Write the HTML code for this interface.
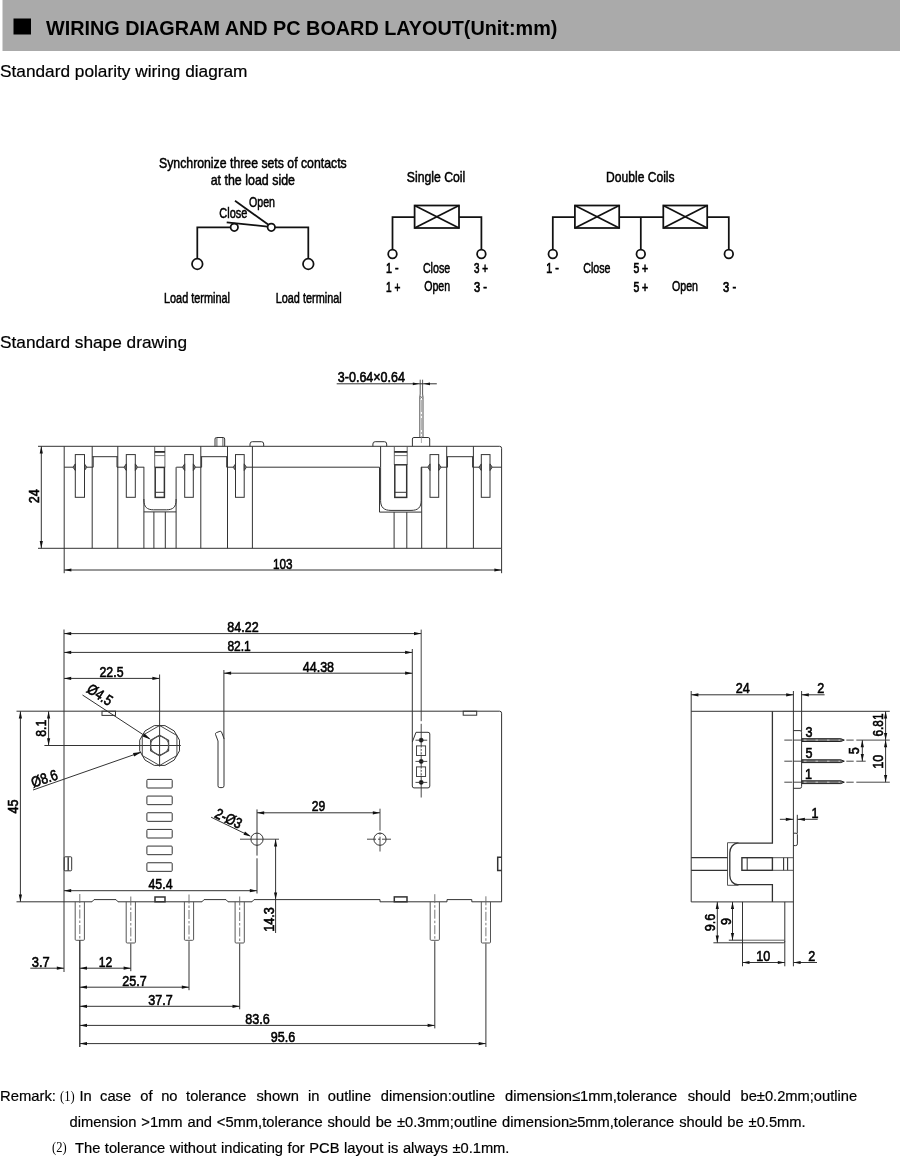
<!DOCTYPE html>
<html><head><meta charset="utf-8"><title>Wiring diagram and PC board layout</title>
<style>
html,body{margin:0;padding:0;background:#fff;}
body{width:900px;height:1156px;overflow:hidden;font-family:"Liberation Sans",sans-serif;}
svg{display:block;position:absolute;left:0;top:0;will-change:transform;}
svg text{font-family:"Liberation Sans",sans-serif;}
</style></head><body>
<svg width="900" height="1156" viewBox="0 0 900 1156">
<rect x="0" y="0" width="900" height="1156" fill="#fff"/>

<rect x="2.5" y="0" width="898" height="51" fill="#aaaaaa"/>
<rect x="13.5" y="18.5" width="17.5" height="16" fill="#000"/>
<text x="46.00" y="35.20" font-size="19.9" text-anchor="start" font-weight="bold" fill="#000" stroke="none" textLength="511.4" lengthAdjust="spacingAndGlyphs">WIRING DIAGRAM AND PC BOARD LAYOUT(Unit:mm)</text>
<text x="0.00" y="77.30" font-size="16.6" text-anchor="start" font-weight="normal" fill="#000" stroke="#000" stroke-width="0.2" textLength="247.5" lengthAdjust="spacingAndGlyphs">Standard polarity wiring diagram</text>
<text x="0.00" y="348.00" font-size="16.6" text-anchor="start" font-weight="normal" fill="#000" stroke="#000" stroke-width="0.2" textLength="187.0" lengthAdjust="spacingAndGlyphs">Standard shape drawing</text>
<g stroke="#111" fill="none" stroke-linecap="butt">
<circle cx="197.30" cy="264.00" r="5.30" stroke-width="1.75" fill="none"/>
<circle cx="308.30" cy="264.00" r="5.30" stroke-width="1.75" fill="none"/>
<path d="M197.3,258.7 V227.3 H230.6" stroke-width="1.75" fill="none"/>
<circle cx="234.30" cy="227.30" r="3.70" stroke-width="1.75" fill="none"/>
<circle cx="271.30" cy="227.30" r="3.70" stroke-width="1.75" fill="none"/>
<path d="M275,227.3 H308.3 V258.7" stroke-width="1.75" fill="none"/>
<line x1="226.70" y1="222.40" x2="267.70" y2="226.60" stroke-width="1.75"/>
<line x1="235.00" y1="200.70" x2="268.50" y2="224.80" stroke-width="1.75"/>
<rect x="414.60" y="205.50" width="44.40" height="22.50" rx="0" stroke-width="1.75" fill="none"/>
<line x1="414.60" y1="205.50" x2="459.00" y2="228.00" stroke-width="1.75"/>
<line x1="414.60" y1="228.00" x2="459.00" y2="205.50" stroke-width="1.75"/>
<path d="M414.6,217.2 H392.5 V249.7" stroke-width="1.75" fill="none"/>
<circle cx="392.50" cy="254.00" r="4.30" stroke-width="1.75" fill="none"/>
<path d="M459.0,217.2 H481.4 V249.7" stroke-width="1.75" fill="none"/>
<circle cx="481.40" cy="254.00" r="4.30" stroke-width="1.75" fill="none"/>
<rect x="574.90" y="205.50" width="44.30" height="22.50" rx="0" stroke-width="1.75" fill="none"/>
<line x1="574.90" y1="205.50" x2="619.20" y2="228.00" stroke-width="1.75"/>
<line x1="574.90" y1="228.00" x2="619.20" y2="205.50" stroke-width="1.75"/>
<rect x="663.30" y="205.50" width="43.90" height="22.50" rx="0" stroke-width="1.75" fill="none"/>
<line x1="663.30" y1="205.50" x2="707.20" y2="228.00" stroke-width="1.75"/>
<line x1="663.30" y1="228.00" x2="707.20" y2="205.50" stroke-width="1.75"/>
<path d="M574.9,217.2 H552.8 V249.7" stroke-width="1.75" fill="none"/>
<circle cx="552.80" cy="254.00" r="4.30" stroke-width="1.75" fill="none"/>
<line x1="619.20" y1="217.20" x2="663.30" y2="217.20" stroke-width="1.75"/>
<line x1="640.80" y1="217.20" x2="640.80" y2="249.70" stroke-width="1.75"/>
<circle cx="640.80" cy="254.00" r="4.30" stroke-width="1.75" fill="none"/>
<path d="M707.2,217.2 H728.8 V249.7" stroke-width="1.75" fill="none"/>
<circle cx="728.80" cy="254.00" r="4.30" stroke-width="1.75" fill="none"/>
</g>
<text x="159.00" y="167.80" font-size="14.8" text-anchor="start" font-weight="normal" fill="#000" stroke="#000" stroke-width="0.5" textLength="187.7" lengthAdjust="spacingAndGlyphs">Synchronize three sets of contacts</text>
<text x="210.70" y="184.60" font-size="14.8" text-anchor="start" font-weight="normal" fill="#000" stroke="#000" stroke-width="0.5" textLength="84.3" lengthAdjust="spacingAndGlyphs">at the load side</text>
<text x="249.00" y="206.70" font-size="13.8" text-anchor="start" font-weight="normal" fill="#000" stroke="#000" stroke-width="0.5" textLength="26.0" lengthAdjust="spacingAndGlyphs">Open</text>
<text x="219.30" y="217.70" font-size="13.8" text-anchor="start" font-weight="normal" fill="#000" stroke="#000" stroke-width="0.5" textLength="28.0" lengthAdjust="spacingAndGlyphs">Close</text>
<text x="164.00" y="303.30" font-size="13.8" text-anchor="start" font-weight="normal" fill="#000" stroke="#000" stroke-width="0.5" textLength="66.0" lengthAdjust="spacingAndGlyphs">Load terminal</text>
<text x="275.70" y="303.30" font-size="13.8" text-anchor="start" font-weight="normal" fill="#000" stroke="#000" stroke-width="0.5" textLength="66.0" lengthAdjust="spacingAndGlyphs">Load terminal</text>
<text x="406.80" y="181.90" font-size="14.8" text-anchor="start" font-weight="normal" fill="#000" stroke="#000" stroke-width="0.5" textLength="58.5" lengthAdjust="spacingAndGlyphs">Single Coil</text>
<text x="606.10" y="181.90" font-size="14.8" text-anchor="start" font-weight="normal" fill="#000" stroke="#000" stroke-width="0.5" textLength="68.5" lengthAdjust="spacingAndGlyphs">Double Coils</text>
<text x="386.00" y="273.40" font-size="13.8" text-anchor="start" font-weight="normal" fill="#000" stroke="#000" stroke-width="0.7" textLength="12.6" lengthAdjust="spacingAndGlyphs">1 -</text>
<text x="422.90" y="273.40" font-size="13.8" text-anchor="start" font-weight="normal" fill="#000" stroke="#000" stroke-width="0.5" textLength="27.3" lengthAdjust="spacingAndGlyphs">Close</text>
<text x="474.00" y="273.40" font-size="13.8" text-anchor="start" font-weight="normal" fill="#000" stroke="#000" stroke-width="0.7" textLength="13.9" lengthAdjust="spacingAndGlyphs">3 +</text>
<text x="386.00" y="291.70" font-size="13.8" text-anchor="start" font-weight="normal" fill="#000" stroke="#000" stroke-width="0.7" textLength="14.3" lengthAdjust="spacingAndGlyphs">1 +</text>
<text x="424.20" y="290.80" font-size="13.8" text-anchor="start" font-weight="normal" fill="#000" stroke="#000" stroke-width="0.5" textLength="26.0" lengthAdjust="spacingAndGlyphs">Open</text>
<text x="474.00" y="291.70" font-size="13.8" text-anchor="start" font-weight="normal" fill="#000" stroke="#000" stroke-width="0.7" textLength="13.0" lengthAdjust="spacingAndGlyphs">3 -</text>
<text x="546.30" y="273.40" font-size="13.8" text-anchor="start" font-weight="normal" fill="#000" stroke="#000" stroke-width="0.7" textLength="12.6" lengthAdjust="spacingAndGlyphs">1 -</text>
<text x="583.20" y="273.40" font-size="13.8" text-anchor="start" font-weight="normal" fill="#000" stroke="#000" stroke-width="0.5" textLength="27.3" lengthAdjust="spacingAndGlyphs">Close</text>
<text x="633.40" y="273.40" font-size="13.8" text-anchor="start" font-weight="normal" fill="#000" stroke="#000" stroke-width="0.7" textLength="14.8" lengthAdjust="spacingAndGlyphs">5 +</text>
<text x="633.40" y="291.70" font-size="13.8" text-anchor="start" font-weight="normal" fill="#000" stroke="#000" stroke-width="0.7" textLength="14.8" lengthAdjust="spacingAndGlyphs">5 +</text>
<text x="672.00" y="290.80" font-size="13.8" text-anchor="start" font-weight="normal" fill="#000" stroke="#000" stroke-width="0.5" textLength="26.0" lengthAdjust="spacingAndGlyphs">Open</text>
<text x="723.10" y="291.70" font-size="13.8" text-anchor="start" font-weight="normal" fill="#000" stroke="#000" stroke-width="0.7" textLength="13.0" lengthAdjust="spacingAndGlyphs">3 -</text>
<g stroke="#333333" fill="none" stroke-linecap="butt" stroke-linejoin="miter">
<line x1="38.00" y1="446.30" x2="499.60" y2="446.30" stroke-width="1"/>
<line x1="38.00" y1="548.30" x2="501.60" y2="548.30" stroke-width="1"/>
<path d="M499.6,446.3 Q501.6,446.3 501.6,448.3 V548.3" stroke-width="1" fill="none"/>
<line x1="64.20" y1="446.30" x2="64.20" y2="573.20" stroke-width="1"/>
<line x1="501.60" y1="548.30" x2="501.60" y2="573.20" stroke-width="1"/>
<line x1="41.30" y1="446.30" x2="41.30" y2="548.30" stroke-width="1"/>
<polygon points="41.30,446.30 42.90,453.50 39.70,453.50" fill="#111" stroke="none"/>
<polygon points="41.30,548.30 39.70,541.10 42.90,541.10" fill="#111" stroke="none"/>
<line x1="64.20" y1="570.00" x2="501.60" y2="570.00" stroke-width="1"/>
<polygon points="64.20,570.00 71.40,568.40 71.40,571.60" fill="#111" stroke="none"/>
<polygon points="501.60,570.00 494.40,571.60 494.40,568.40" fill="#111" stroke="none"/>
<line x1="92.20" y1="446.30" x2="92.20" y2="548.30" stroke-width="1"/>
<line x1="64.20" y1="467.20" x2="73.00" y2="467.20" stroke-width="1"/>
<line x1="86.80" y1="467.20" x2="93.20" y2="467.20" stroke-width="1"/>
<line x1="93.20" y1="467.20" x2="93.20" y2="456.70" stroke-width="1"/>
<rect x="75.30" y="454.60" width="9.20" height="42.70" rx="0" stroke-width="1" fill="none"/>
<path d="M75.3,463.9 L73.0,467.2 L75.3,470.5 Z" stroke-width="0.9" fill="#777"/>
<path d="M84.5,463.9 L86.8,467.2 L84.5,470.5 Z" stroke-width="0.9" fill="#777"/>
<line x1="92.20" y1="456.70" x2="117.80" y2="456.70" stroke-width="1"/>
<line x1="117.80" y1="446.30" x2="117.80" y2="548.30" stroke-width="1"/>
<line x1="117.00" y1="456.70" x2="117.00" y2="467.20" stroke-width="1"/>
<line x1="117.00" y1="467.20" x2="124.00" y2="467.20" stroke-width="1"/>
<line x1="137.60" y1="467.20" x2="144.20" y2="467.20" stroke-width="1"/>
<rect x="126.30" y="454.60" width="9.00" height="42.70" rx="0" stroke-width="1" fill="none"/>
<path d="M126.3,463.9 L124.0,467.2 L126.3,470.5 Z" stroke-width="0.9" fill="#777"/>
<path d="M135.3,463.9 L137.60000000000002,467.2 L135.3,470.5 Z" stroke-width="0.9" fill="#777"/>
<path d="M143.9,467.2 V500 C143.9,507 147,509.8 153.5,509.8 H166.5 C173,509.8 176.1,507 176.1,500 V467.2" stroke-width="1" fill="none"/>
<path d="M143.9,499 V548.3 M176.1,499 V548.3" stroke-width="1" fill="none"/>
<line x1="143.90" y1="511.90" x2="176.10" y2="511.90" stroke-width="1"/>
<line x1="153.90" y1="511.90" x2="153.90" y2="548.30" stroke-width="1"/>
<line x1="165.30" y1="511.90" x2="165.30" y2="548.30" stroke-width="1"/>
<line x1="154.70" y1="446.30" x2="154.70" y2="467.40" stroke-width="0.9" stroke="#555"/>
<line x1="164.90" y1="446.30" x2="164.90" y2="467.40" stroke-width="0.9" stroke="#555"/>
<line x1="154.70" y1="451.90" x2="164.90" y2="451.90" stroke-width="1.7" stroke="#222"/>
<line x1="154.70" y1="455.60" x2="164.90" y2="455.60" stroke-width="0.9" stroke="#666"/>
<rect x="155.20" y="467.40" width="9.20" height="30.00" rx="0" stroke-width="1.5" fill="none"/>
<line x1="155.20" y1="492.30" x2="164.40" y2="492.30" stroke-width="1.0"/>
<line x1="176.30" y1="467.20" x2="182.40" y2="467.20" stroke-width="1"/>
<line x1="195.60" y1="467.20" x2="201.60" y2="467.20" stroke-width="1"/>
<rect x="184.70" y="454.60" width="8.60" height="42.70" rx="0" stroke-width="1" fill="none"/>
<path d="M184.7,463.9 L182.39999999999998,467.2 L184.7,470.5 Z" stroke-width="0.9" fill="#777"/>
<path d="M193.3,463.9 L195.60000000000002,467.2 L193.3,470.5 Z" stroke-width="0.9" fill="#777"/>
<line x1="200.80" y1="446.30" x2="200.80" y2="548.30" stroke-width="1"/>
<line x1="201.60" y1="467.20" x2="201.60" y2="456.70" stroke-width="1"/>
<line x1="200.80" y1="456.70" x2="227.50" y2="456.70" stroke-width="1"/>
<line x1="227.50" y1="446.30" x2="227.50" y2="548.30" stroke-width="1"/>
<line x1="226.70" y1="456.70" x2="226.70" y2="467.20" stroke-width="1"/>
<line x1="226.70" y1="467.20" x2="233.20" y2="467.20" stroke-width="1"/>
<line x1="246.50" y1="467.20" x2="379.50" y2="467.20" stroke-width="1"/>
<rect x="235.50" y="454.60" width="8.70" height="42.70" rx="0" stroke-width="1" fill="none"/>
<path d="M235.5,463.9 L233.2,467.2 L235.5,470.5 Z" stroke-width="0.9" fill="#777"/>
<path d="M244.2,463.9 L246.5,467.2 L244.2,470.5 Z" stroke-width="0.9" fill="#777"/>
<line x1="252.40" y1="446.30" x2="252.40" y2="548.30" stroke-width="1"/>
<path d="M215,446.3 V439 Q215,437.5 216.5,437.5 H223.2 Q224.7,437.5 224.7,439 V446.3" stroke-width="1" fill="none"/>
<line x1="216.90" y1="438.00" x2="216.90" y2="446.30" stroke-width="0.8"/>
<line x1="222.90" y1="438.00" x2="222.90" y2="446.30" stroke-width="0.8"/>
<path d="M250,446.3 V444 Q250,441.7 252.3,441.7 H261.4 Q263.7,441.7 263.7,444 V446.3" stroke-width="1" fill="none"/>
<path d="M372.9,446.3 V444 Q372.9,441.7 375.2,441.7 H384.4 Q386.7,441.7 386.7,444 V446.3" stroke-width="1" fill="none"/>
<line x1="380.60" y1="446.30" x2="380.60" y2="467.20" stroke-width="1"/>
<path d="M379.5,467.2 V512.1 H421.7" stroke-width="1" fill="none"/>
<path d="M380.6,467.2 V500.5 C380.6,507.5 384,510.4 391,510.4 H411 C418,510.4 421.2,507.5 421.2,500.5 V467.2" stroke-width="1" fill="none"/>
<line x1="421.70" y1="467.20" x2="421.70" y2="548.30" stroke-width="1"/>
<line x1="394.30" y1="446.30" x2="394.30" y2="464.80" stroke-width="0.9" stroke="#555"/>
<line x1="407.20" y1="446.30" x2="407.20" y2="464.80" stroke-width="0.9" stroke="#555"/>
<line x1="394.30" y1="451.90" x2="407.20" y2="451.90" stroke-width="1.7" stroke="#222"/>
<line x1="394.30" y1="455.60" x2="407.20" y2="455.60" stroke-width="0.9" stroke="#666"/>
<rect x="394.80" y="464.80" width="11.90" height="32.60" rx="0" stroke-width="1.5" fill="none"/>
<line x1="394.80" y1="492.30" x2="406.70" y2="492.30" stroke-width="1.0"/>
<line x1="394.10" y1="512.10" x2="394.10" y2="548.30" stroke-width="1"/>
<line x1="406.80" y1="512.10" x2="406.80" y2="548.30" stroke-width="1"/>
<line x1="421.00" y1="467.20" x2="427.70" y2="467.20" stroke-width="1"/>
<line x1="441.00" y1="467.20" x2="447.50" y2="467.20" stroke-width="1"/>
<rect x="430.00" y="454.60" width="8.70" height="42.70" rx="0" stroke-width="1" fill="none"/>
<path d="M430,463.9 L427.7,467.2 L430,470.5 Z" stroke-width="0.9" fill="#777"/>
<path d="M438.7,463.9 L441.0,467.2 L438.7,470.5 Z" stroke-width="0.9" fill="#777"/>
<line x1="446.70" y1="446.30" x2="446.70" y2="548.30" stroke-width="1"/>
<line x1="447.50" y1="467.20" x2="447.50" y2="456.70" stroke-width="1"/>
<line x1="446.70" y1="456.70" x2="473.40" y2="456.70" stroke-width="1"/>
<line x1="473.40" y1="446.30" x2="473.40" y2="548.30" stroke-width="1"/>
<line x1="472.60" y1="456.70" x2="472.60" y2="467.20" stroke-width="1"/>
<line x1="472.60" y1="467.20" x2="479.00" y2="467.20" stroke-width="1"/>
<line x1="492.30" y1="467.20" x2="501.60" y2="467.20" stroke-width="1"/>
<rect x="481.30" y="454.60" width="8.70" height="42.70" rx="0" stroke-width="1" fill="none"/>
<path d="M481.3,463.9 L479.0,467.2 L481.3,470.5 Z" stroke-width="0.9" fill="#777"/>
<path d="M490,463.9 L492.3,467.2 L490,470.5 Z" stroke-width="0.9" fill="#777"/>
<path d="M412.4,446.3 V439 Q412.4,437.5 413.9,437.5 H428.2 Q429.7,437.5 429.7,439 V446.3" stroke-width="1" fill="none"/>
<path d="M419.8,437.5 V397 L420.2,394 V379.7 M423.0,437.5 V397 L422.6,394 V379.7" stroke-width="0.9" fill="none" stroke="#444"/>
<path d="M420.0,396 L422.8,398.6 M422.8,396 L420.0,398.6" stroke-width="0.6" fill="none" stroke="#555"/>
<line x1="421.40" y1="400.00" x2="421.40" y2="443.00" stroke-width="0.7" stroke="#888" stroke-dasharray="12 2 2 2"/>
<line x1="336.70" y1="383.80" x2="436.80" y2="383.80" stroke-width="1"/>
<polygon points="419.30,383.80 412.80,385.20 412.80,382.40" fill="#111" stroke="none"/>
<polygon points="423.50,383.80 430.00,382.40 430.00,385.20" fill="#111" stroke="none"/>
</g>
<text x="282.80" y="568.00" font-size="14.8" text-anchor="middle" font-weight="normal" fill="#000" stroke="#000" stroke-width="0.6" dy="0.8" textLength="19.5" lengthAdjust="spacingAndGlyphs">103</text>
<text x="38.60" y="496.20" font-size="14.8" text-anchor="middle" font-weight="normal" fill="#000" stroke="#000" stroke-width="0.6" dy="0.8" textLength="14.0" lengthAdjust="spacingAndGlyphs" transform="rotate(-90 38.60 496.20)">24</text>
<text x="337.80" y="381.00" font-size="14.8" text-anchor="start" font-weight="normal" fill="#000" stroke="#000" stroke-width="0.6" dy="0.8" textLength="67.2" lengthAdjust="spacingAndGlyphs">3-0.64×0.64</text>
<g stroke="#333333" fill="none" stroke-linecap="butt" stroke-linejoin="miter">
<line x1="16.50" y1="711.20" x2="499.60" y2="711.20" stroke-width="1"/>
<path d="M499.6,711.2 Q501.6,711.2 501.6,713.2 V901.8" stroke-width="1" fill="none"/>
<line x1="64.00" y1="629.50" x2="64.00" y2="972.00" stroke-width="1"/>
<line x1="16.50" y1="901.80" x2="64.00" y2="901.80" stroke-width="1"/>
<path d="M64.0,901.8 H92 L94,899.6 H116 L118,901.8 H202 L204,899.6 H226 L228,901.8 H252 L254,899.6 H380 V901.8 H447 V899.6 H471.8 V901.8 H501.6" stroke-width="1" fill="none"/>
<rect x="102.00" y="711.20" width="13.50" height="4.20" rx="0" stroke-width="1" fill="none"/>
<rect x="463.20" y="711.20" width="13.50" height="4.00" rx="0" stroke-width="1" fill="none"/>
<rect x="155.00" y="897.00" width="10.00" height="4.80" rx="0" stroke-width="1.5" fill="none"/>
<rect x="394.30" y="896.90" width="12.70" height="4.90" rx="0" stroke-width="1.5" fill="none"/>
<rect x="64.20" y="856.80" width="7.50" height="14.00" rx="1" stroke-width="1" fill="none"/>
<line x1="68.20" y1="857.20" x2="68.20" y2="870.40" stroke-width="1.4"/>
<path d="M501.6,857.3 H497.7 V870.6 H501.6" stroke-width="1.5" fill="none"/>
<line x1="64.00" y1="633.60" x2="421.20" y2="633.60" stroke-width="1"/>
<polygon points="64.00,633.60 71.20,632.00 71.20,635.20" fill="#111" stroke="none"/>
<polygon points="421.20,633.60 414.00,635.20 414.00,632.00" fill="#111" stroke="none"/>
<line x1="64.00" y1="652.40" x2="412.30" y2="652.40" stroke-width="1"/>
<polygon points="64.00,652.40 71.20,650.80 71.20,654.00" fill="#111" stroke="none"/>
<polygon points="412.30,652.40 405.10,654.00 405.10,650.80" fill="#111" stroke="none"/>
<line x1="64.00" y1="678.40" x2="159.60" y2="678.40" stroke-width="1"/>
<polygon points="64.00,678.40 71.20,676.80 71.20,680.00" fill="#111" stroke="none"/>
<polygon points="159.60,678.40 152.40,680.00 152.40,676.80" fill="#111" stroke="none"/>
<line x1="223.90" y1="673.20" x2="412.30" y2="673.20" stroke-width="1"/>
<polygon points="223.90,673.20 231.10,671.60 231.10,674.80" fill="#111" stroke="none"/>
<polygon points="412.30,673.20 405.10,674.80 405.10,671.60" fill="#111" stroke="none"/>
<line x1="223.90" y1="670.00" x2="223.90" y2="739.00" stroke-width="1"/>
<line x1="412.30" y1="649.00" x2="412.30" y2="742.00" stroke-width="1"/>
<line x1="159.60" y1="674.50" x2="159.60" y2="766.50" stroke-width="1"/>
<line x1="421.20" y1="629.60" x2="421.20" y2="797.50" stroke-width="0.9" stroke-dasharray="91.6 2.6 200 0"/>
<line x1="20.40" y1="711.20" x2="20.40" y2="901.80" stroke-width="1"/>
<polygon points="20.40,711.20 22.00,718.40 18.80,718.40" fill="#111" stroke="none"/>
<polygon points="20.40,901.80 18.80,894.60 22.00,894.60" fill="#111" stroke="none"/>
<line x1="44.40" y1="745.50" x2="180.80" y2="745.50" stroke-width="1"/>
<line x1="48.60" y1="711.20" x2="48.60" y2="745.50" stroke-width="1"/>
<polygon points="48.60,711.20 50.20,718.40 47.00,718.40" fill="#111" stroke="none"/>
<polygon points="48.60,745.50 47.00,738.30 50.20,738.30" fill="#111" stroke="none"/>
<polygon points="179.50,750.83 174.17,760.07 164.93,765.40 154.27,765.40 145.03,760.07 139.70,750.83 139.70,740.17 145.03,730.93 154.27,725.60 164.93,725.60 174.17,730.93 179.50,740.17" stroke-width="1"/>
<polygon points="176.92,755.50 159.60,765.50 142.28,755.50 142.28,735.50 159.60,725.50 176.92,735.50" stroke-width="0.9"/>
<polygon points="168.52,750.65 159.60,755.80 150.68,750.65 150.68,740.35 159.60,735.20 168.52,740.35" stroke-width="1.3" stroke="#444"/>
<polygon points="168.58,747.91 166.18,752.08 162.01,754.48 157.19,754.48 153.02,752.08 150.62,747.91 150.62,743.09 153.02,738.92 157.19,736.52 162.01,736.52 166.18,738.92 168.58,743.09" stroke-width="1.0" stroke="#555"/>
<line x1="82.50" y1="695.00" x2="149.50" y2="738.80" stroke-width="1"/>
<polygon points="150.70,739.60 142.60,736.45 144.57,733.44" fill="#111" stroke="none"/>
<line x1="33.00" y1="790.00" x2="140.50" y2="752.40" stroke-width="1"/>
<polygon points="141.60,752.00 134.16,756.50 132.98,753.10" fill="#111" stroke="none"/>
<rect x="146.90" y="779.40" width="25.30" height="8.60" rx="0.9" stroke-width="1" fill="none"/>
<rect x="146.90" y="796.07" width="25.30" height="8.60" rx="0.9" stroke-width="1" fill="none"/>
<rect x="146.90" y="812.74" width="25.30" height="8.60" rx="0.9" stroke-width="1" fill="none"/>
<rect x="146.90" y="829.41" width="25.30" height="8.60" rx="0.9" stroke-width="1" fill="none"/>
<rect x="146.90" y="846.08" width="25.30" height="8.60" rx="0.9" stroke-width="1" fill="none"/>
<rect x="146.90" y="862.75" width="25.30" height="8.60" rx="0.9" stroke-width="1" fill="none"/>
<path d="M218.0,741 V785.8 Q218.0,787.6 219.8,787.6 H222.2 Q224,787.6 224,785.8 V738.5" stroke-width="1" fill="none"/>
<path d="M218.0,741 L215.5,734.4 Q215.1,733.2 216.3,732.7 L219.9,731.3 Q221.0,730.9 221.5,732.0 L224,738.5" stroke-width="1" fill="none"/>
<path d="M412.3,742 L416,732.3 H428 Q429.8,732.3 429.8,734 V786 Q429.8,787.9 428,787.9 H414 Q412.3,787.9 412.3,786 Z" stroke-width="1" fill="none"/>
<circle cx="421.20" cy="740.20" r="2.10" stroke-width="0.6" fill="#111"/>
<line x1="415.50" y1="740.20" x2="427.20" y2="740.20" stroke-width="0.9"/>
<circle cx="421.20" cy="761.40" r="2.10" stroke-width="0.6" fill="#111"/>
<line x1="415.50" y1="761.40" x2="427.20" y2="761.40" stroke-width="0.9"/>
<circle cx="421.20" cy="782.40" r="2.10" stroke-width="0.6" fill="#111"/>
<line x1="415.50" y1="782.40" x2="427.20" y2="782.40" stroke-width="0.9"/>
<rect x="416.50" y="745.90" width="9.10" height="9.60" rx="0" stroke-width="0.9" fill="none"/>
<rect x="416.50" y="766.90" width="9.10" height="9.60" rx="0" stroke-width="0.9" fill="none"/>
<line x1="421.20" y1="747.50" x2="421.20" y2="754.50" stroke-width="1.4" stroke="#fff" stroke-dasharray="1.6 1.6"/>
<line x1="421.20" y1="768.50" x2="421.20" y2="775.50" stroke-width="1.4" stroke="#fff" stroke-dasharray="1.6 1.6"/>
<circle cx="257.00" cy="839.20" r="6.10" stroke-width="1" fill="none"/>
<circle cx="380.00" cy="839.20" r="6.10" stroke-width="1" fill="none"/>
<line x1="240.00" y1="839.20" x2="279.00" y2="839.20" stroke-width="0.9"/>
<line x1="367.00" y1="839.20" x2="393.00" y2="839.20" stroke-width="0.9" stroke-dasharray="9 2 2 2"/>
<line x1="380.00" y1="808.70" x2="380.00" y2="851.50" stroke-width="0.9" stroke-dasharray="22 2 2 2"/>
<line x1="257.00" y1="809.40" x2="257.00" y2="893.50" stroke-width="1" stroke-dasharray="46.2 2.7 100 0"/>
<line x1="257.00" y1="812.80" x2="380.00" y2="812.80" stroke-width="1"/>
<polygon points="257.00,812.80 264.20,811.20 264.20,814.40" fill="#111" stroke="none"/>
<polygon points="380.00,812.80 372.80,814.40 372.80,811.20" fill="#111" stroke="none"/>
<line x1="211.10" y1="817.20" x2="249.60" y2="835.80" stroke-width="1"/>
<polygon points="251.00,836.40 243.51,834.67 244.99,831.61" fill="#111" stroke="none"/>
<line x1="64.00" y1="890.70" x2="257.00" y2="890.70" stroke-width="1"/>
<polygon points="64.00,890.70 71.20,889.10 71.20,892.30" fill="#111" stroke="none"/>
<polygon points="257.00,890.70 249.80,892.30 249.80,889.10" fill="#111" stroke="none"/>
<line x1="275.60" y1="839.20" x2="275.60" y2="933.00" stroke-width="1"/>
<polygon points="275.60,839.20 277.20,846.40 274.00,846.40" fill="#111" stroke="none"/>
<polygon points="275.60,899.60 274.00,892.40 277.20,892.40" fill="#111" stroke="none"/>
<path d="M75.2,901.8 V939.3 Q75.2,940.3 76.2,940.3 H83.39999999999999 Q84.39999999999999,940.3 84.39999999999999,939.3 V901.8" stroke-width="1" fill="none" stroke="#555"/>
<line x1="79.80" y1="894.00" x2="79.80" y2="941.30" stroke-width="0.9" stroke="#666" stroke-dasharray="9 2 2.5 2"/>
<line x1="79.80" y1="941.30" x2="79.80" y2="1047.00" stroke-width="1"/>
<path d="M126.20000000000002,901.8 V942.0 Q126.20000000000002,943.0 127.20000000000002,943.0 H134.4 Q135.4,943.0 135.4,942.0 V901.8" stroke-width="1" fill="none" stroke="#555"/>
<line x1="130.80" y1="896.50" x2="130.80" y2="944.00" stroke-width="0.9" stroke="#666" stroke-dasharray="9 2 2.5 2"/>
<line x1="130.80" y1="944.00" x2="130.80" y2="971.20" stroke-width="1"/>
<path d="M184.4,901.8 V939.3 Q184.4,940.3 185.4,940.3 H192.6 Q193.6,940.3 193.6,939.3 V901.8" stroke-width="1" fill="none" stroke="#555"/>
<line x1="189.00" y1="894.50" x2="189.00" y2="941.30" stroke-width="0.9" stroke="#666" stroke-dasharray="9 2 2.5 2"/>
<line x1="189.00" y1="941.30" x2="189.00" y2="990.20" stroke-width="1"/>
<path d="M235.1,901.8 V942.0 Q235.1,943.0 236.1,943.0 H243.29999999999998 Q244.29999999999998,943.0 244.29999999999998,942.0 V901.8" stroke-width="1" fill="none" stroke="#555"/>
<line x1="239.70" y1="896.50" x2="239.70" y2="944.00" stroke-width="0.9" stroke="#666" stroke-dasharray="9 2 2.5 2"/>
<line x1="239.70" y1="944.00" x2="239.70" y2="1009.30" stroke-width="1"/>
<path d="M430.2,901.8 V939.3 Q430.2,940.3 431.2,940.3 H438.40000000000003 Q439.40000000000003,940.3 439.40000000000003,939.3 V901.8" stroke-width="1" fill="none" stroke="#555"/>
<line x1="434.80" y1="894.20" x2="434.80" y2="941.30" stroke-width="0.9" stroke="#666" stroke-dasharray="9 2 2.5 2"/>
<line x1="434.80" y1="941.30" x2="434.80" y2="1028.40" stroke-width="1"/>
<path d="M481.29999999999995,901.8 V942.0 Q481.29999999999995,943.0 482.29999999999995,943.0 H489.5 Q490.5,943.0 490.5,942.0 V901.8" stroke-width="1" fill="none" stroke="#555"/>
<line x1="485.90" y1="896.30" x2="485.90" y2="944.00" stroke-width="0.9" stroke="#666" stroke-dasharray="9 2 2.5 2"/>
<line x1="485.90" y1="944.00" x2="485.90" y2="1047.00" stroke-width="1"/>
<line x1="79.80" y1="940.00" x2="79.80" y2="1047.00" stroke-width="1"/>
<line x1="30.30" y1="968.20" x2="64.00" y2="968.20" stroke-width="1"/>
<polygon points="64.00,968.20 56.80,969.80 56.80,966.60" fill="#111" stroke="none"/>
<line x1="79.80" y1="968.20" x2="130.80" y2="968.20" stroke-width="1"/>
<polygon points="79.80,968.20 87.00,966.60 87.00,969.80" fill="#111" stroke="none"/>
<polygon points="130.80,968.20 123.60,969.80 123.60,966.60" fill="#111" stroke="none"/>
<line x1="79.80" y1="987.20" x2="189.00" y2="987.20" stroke-width="1"/>
<polygon points="79.80,987.20 87.00,985.60 87.00,988.80" fill="#111" stroke="none"/>
<polygon points="189.00,987.20 181.80,988.80 181.80,985.60" fill="#111" stroke="none"/>
<line x1="79.80" y1="1006.30" x2="239.70" y2="1006.30" stroke-width="1"/>
<polygon points="79.80,1006.30 87.00,1004.70 87.00,1007.90" fill="#111" stroke="none"/>
<polygon points="239.70,1006.30 232.50,1007.90 232.50,1004.70" fill="#111" stroke="none"/>
<line x1="79.80" y1="1025.40" x2="434.80" y2="1025.40" stroke-width="1"/>
<polygon points="79.80,1025.40 87.00,1023.80 87.00,1027.00" fill="#111" stroke="none"/>
<polygon points="434.80,1025.40 427.60,1027.00 427.60,1023.80" fill="#111" stroke="none"/>
<line x1="79.80" y1="1043.60" x2="485.90" y2="1043.60" stroke-width="1"/>
<polygon points="79.80,1043.60 87.00,1042.00 87.00,1045.20" fill="#111" stroke="none"/>
<polygon points="485.90,1043.60 478.70,1045.20 478.70,1042.00" fill="#111" stroke="none"/>
</g>
<text x="243.00" y="631.20" font-size="14.8" text-anchor="middle" font-weight="normal" fill="#000" stroke="#000" stroke-width="0.6" dy="0.8" textLength="31.3" lengthAdjust="spacingAndGlyphs">84.22</text>
<text x="239.10" y="650.00" font-size="14.8" text-anchor="middle" font-weight="normal" fill="#000" stroke="#000" stroke-width="0.6" dy="0.8" textLength="23.4" lengthAdjust="spacingAndGlyphs">82.1</text>
<text x="318.40" y="671.00" font-size="14.8" text-anchor="middle" font-weight="normal" fill="#000" stroke="#000" stroke-width="0.6" dy="0.8" textLength="31.3" lengthAdjust="spacingAndGlyphs">44.38</text>
<text x="111.50" y="676.20" font-size="14.8" text-anchor="middle" font-weight="normal" fill="#000" stroke="#000" stroke-width="0.6" dy="0.8" textLength="24.0" lengthAdjust="spacingAndGlyphs">22.5</text>
<text x="318.40" y="810.40" font-size="14.8" text-anchor="middle" font-weight="normal" fill="#000" stroke="#000" stroke-width="0.6" dy="0.8" textLength="13.5" lengthAdjust="spacingAndGlyphs">29</text>
<text x="160.50" y="888.40" font-size="14.8" text-anchor="middle" font-weight="normal" fill="#000" stroke="#000" stroke-width="0.6" dy="0.8" textLength="24.0" lengthAdjust="spacingAndGlyphs">45.4</text>
<text x="17.30" y="806.50" font-size="14.8" text-anchor="middle" font-weight="normal" fill="#000" stroke="#000" stroke-width="0.6" dy="0.8" textLength="14.0" lengthAdjust="spacingAndGlyphs" transform="rotate(-90 17.30 806.50)">45</text>
<text x="45.50" y="728.30" font-size="14.8" text-anchor="middle" font-weight="normal" fill="#000" stroke="#000" stroke-width="0.6" dy="0.8" textLength="17.0" lengthAdjust="spacingAndGlyphs" transform="rotate(-90 45.50 728.30)">8.1</text>
<text x="273.20" y="919.50" font-size="14.8" text-anchor="middle" font-weight="normal" fill="#000" stroke="#000" stroke-width="0.6" dy="0.8" textLength="24.5" lengthAdjust="spacingAndGlyphs" transform="rotate(-90 273.20 919.50)">14.3</text>
<text x="97.60" y="698.30" font-size="14.8" text-anchor="middle" font-weight="normal" fill="#000" stroke="#000" stroke-width="0.6" dy="0.8" textLength="27.0" lengthAdjust="spacingAndGlyphs" transform="rotate(33.2 97.60 698.30)">Ø4.5</text>
<text x="45.80" y="782.60" font-size="14.8" text-anchor="middle" font-weight="normal" fill="#000" stroke="#000" stroke-width="0.6" dy="0.8" textLength="27.0" lengthAdjust="spacingAndGlyphs" transform="rotate(-19.2 45.80 782.60)">Ø8.6</text>
<text x="214.20" y="816.20" font-size="14.8" text-anchor="start" font-weight="normal" fill="#000" stroke="#000" stroke-width="0.6" dy="0.8" textLength="28.0" lengthAdjust="spacingAndGlyphs" transform="rotate(25.8 214.20 816.20)">2-Ø3</text>
<text x="31.80" y="966.30" font-size="14.8" text-anchor="start" font-weight="normal" fill="#000" stroke="#000" stroke-width="0.6" dy="0.8" textLength="18.0" lengthAdjust="spacingAndGlyphs">3.7</text>
<text x="105.50" y="966.30" font-size="14.8" text-anchor="middle" font-weight="normal" fill="#000" stroke="#000" stroke-width="0.6" dy="0.8" textLength="13.5" lengthAdjust="spacingAndGlyphs">12</text>
<text x="134.40" y="985.20" font-size="14.8" text-anchor="middle" font-weight="normal" fill="#000" stroke="#000" stroke-width="0.6" dy="0.8" textLength="24.5" lengthAdjust="spacingAndGlyphs">25.7</text>
<text x="160.40" y="1004.30" font-size="14.8" text-anchor="middle" font-weight="normal" fill="#000" stroke="#000" stroke-width="0.6" dy="0.8" textLength="24.5" lengthAdjust="spacingAndGlyphs">37.7</text>
<text x="257.50" y="1023.40" font-size="14.8" text-anchor="middle" font-weight="normal" fill="#000" stroke="#000" stroke-width="0.6" dy="0.8" textLength="24.5" lengthAdjust="spacingAndGlyphs">83.6</text>
<text x="283.00" y="1041.60" font-size="14.8" text-anchor="middle" font-weight="normal" fill="#000" stroke="#000" stroke-width="0.6" dy="0.8" textLength="24.5" lengthAdjust="spacingAndGlyphs">95.6</text>
<g stroke="#333333" fill="none" stroke-linecap="butt" stroke-linejoin="miter">
<line x1="691.20" y1="691.00" x2="691.20" y2="901.90" stroke-width="1"/>
<line x1="691.20" y1="711.30" x2="889.80" y2="711.30" stroke-width="1"/>
<line x1="691.20" y1="901.90" x2="793.40" y2="901.90" stroke-width="1"/>
<line x1="793.40" y1="691.00" x2="793.40" y2="966.30" stroke-width="1"/>
<line x1="801.60" y1="691.00" x2="801.60" y2="731.00" stroke-width="1"/>
<line x1="691.20" y1="694.80" x2="793.40" y2="694.80" stroke-width="1"/>
<polygon points="691.20,694.80 698.40,693.20 698.40,696.40" fill="#111" stroke="none"/>
<polygon points="793.40,694.80 786.20,696.40 786.20,693.20" fill="#111" stroke="none"/>
<line x1="801.60" y1="694.80" x2="824.60" y2="694.80" stroke-width="1"/>
<polygon points="801.60,694.80 808.80,693.20 808.80,696.40" fill="#111" stroke="none"/>
<path d="M772.4,711.3 V843.2 H737.7 A7.9,9.5 0 0 0 729.8,852.7 V875.4 A7.9,9.3 0 0 0 737.7,884.7 H772.4 V901.9" stroke-width="1.3" fill="none"/>
<path d="M738.5,842.7 H727.5 V885.3 H738.5" stroke-width="0.9" fill="none" stroke="#444"/>
<line x1="691.20" y1="857.60" x2="727.50" y2="857.60" stroke-width="1.1"/>
<line x1="691.20" y1="870.40" x2="727.50" y2="870.40" stroke-width="1.1"/>
<rect x="741.90" y="857.70" width="30.50" height="12.60" rx="0" stroke-width="1.4" fill="none"/>
<line x1="747.20" y1="857.70" x2="747.20" y2="870.30" stroke-width="1.0"/>
<line x1="772.40" y1="857.70" x2="793.40" y2="857.70" stroke-width="0.9" stroke="#444"/>
<line x1="772.40" y1="870.30" x2="793.40" y2="870.30" stroke-width="0.9" stroke="#444"/>
<line x1="783.60" y1="857.70" x2="783.60" y2="870.30" stroke-width="1.1"/>
<line x1="787.60" y1="857.70" x2="787.60" y2="870.30" stroke-width="1.1"/>
<path d="M793.4,730.6 H800 Q801.6,730.6 801.6,732.2 V786.6 Q801.6,788.3 800,788.3 H793.4" stroke-width="1" fill="none"/>
<line x1="784.30" y1="740.10" x2="792.30" y2="740.10" stroke-width="0.9"/>
<line x1="793.70" y1="740.10" x2="801.20" y2="740.10" stroke-width="0.9"/>
<line x1="846.30" y1="740.10" x2="853.70" y2="740.10" stroke-width="0.9"/>
<line x1="856.30" y1="740.10" x2="889.80" y2="740.10" stroke-width="0.9"/>
<path d="M802.0,738.7 H840.8 L844.3,740.1 L840.8,741.5 H802.0 Z" fill="#777" stroke="#222" stroke-width="1.0"/>
<line x1="804.00" y1="740.10" x2="840.00" y2="740.10" stroke-width="0.7" stroke="#e8e8e8" stroke-dasharray="2.5 9"/>
<line x1="784.30" y1="761.20" x2="792.30" y2="761.20" stroke-width="0.9"/>
<line x1="793.70" y1="761.20" x2="801.20" y2="761.20" stroke-width="0.9"/>
<line x1="846.30" y1="761.20" x2="853.70" y2="761.20" stroke-width="0.9"/>
<line x1="856.30" y1="761.20" x2="865.70" y2="761.20" stroke-width="0.9"/>
<path d="M802.0,759.8000000000001 H840.8 L844.3,761.2 L840.8,762.6 H802.0 Z" fill="#777" stroke="#222" stroke-width="1.0"/>
<line x1="804.00" y1="761.20" x2="840.00" y2="761.20" stroke-width="0.7" stroke="#e8e8e8" stroke-dasharray="2.5 9"/>
<line x1="784.30" y1="782.20" x2="792.30" y2="782.20" stroke-width="0.9"/>
<line x1="793.70" y1="782.20" x2="801.20" y2="782.20" stroke-width="0.9"/>
<line x1="846.30" y1="782.20" x2="853.70" y2="782.20" stroke-width="0.9"/>
<line x1="856.30" y1="782.20" x2="889.80" y2="782.20" stroke-width="0.9"/>
<path d="M802.0,780.8000000000001 H840.8 L844.3,782.2 L840.8,783.6 H802.0 Z" fill="#777" stroke="#222" stroke-width="1.0"/>
<line x1="804.00" y1="782.20" x2="840.00" y2="782.20" stroke-width="0.7" stroke="#e8e8e8" stroke-dasharray="2.5 9"/>
<line x1="885.60" y1="711.30" x2="885.60" y2="782.20" stroke-width="1"/>
<polygon points="885.60,711.30 887.20,718.50 884.00,718.50" fill="#111" stroke="none"/>
<polygon points="885.60,740.10 884.00,732.90 887.20,732.90" fill="#111" stroke="none"/>
<polygon points="885.60,740.10 887.20,747.30 884.00,747.30" fill="#111" stroke="none"/>
<polygon points="885.60,782.20 884.00,775.00 887.20,775.00" fill="#111" stroke="none"/>
<line x1="862.30" y1="740.10" x2="862.30" y2="761.20" stroke-width="1"/>
<polygon points="862.30,740.10 863.90,747.30 860.70,747.30" fill="#111" stroke="none"/>
<polygon points="862.30,761.20 860.70,754.00 863.90,754.00" fill="#111" stroke="none"/>
<line x1="797.30" y1="814.80" x2="797.30" y2="833.40" stroke-width="1"/>
<path d="M793.4,833.2 H796.0 Q797.4,833.2 797.4,834.6 V843.9 Q797.4,845.6 795.7,845.6 H793.4" stroke-width="1" fill="none"/>
<line x1="779.90" y1="819.30" x2="793.40" y2="819.30" stroke-width="1"/>
<polygon points="793.00,819.30 785.80,820.90 785.80,817.70" fill="#111" stroke="none"/>
<line x1="797.30" y1="819.30" x2="817.70" y2="819.30" stroke-width="1"/>
<polygon points="797.70,819.30 804.90,817.70 804.90,820.90" fill="#111" stroke="none"/>
<line x1="742.50" y1="901.90" x2="742.50" y2="966.30" stroke-width="1"/>
<line x1="784.80" y1="901.90" x2="784.80" y2="966.30" stroke-width="1"/>
<line x1="742.50" y1="940.20" x2="784.80" y2="940.20" stroke-width="0.9" stroke="#555"/>
<path d="M713.4,942.8 H783.3 Q784.8,942.8 784.8,941.3" stroke-width="1" fill="none"/>
<line x1="728.80" y1="940.20" x2="742.50" y2="940.20" stroke-width="1"/>
<line x1="717.30" y1="901.90" x2="717.30" y2="942.80" stroke-width="1"/>
<polygon points="717.30,901.90 718.90,909.10 715.70,909.10" fill="#111" stroke="none"/>
<polygon points="717.30,942.80 715.70,935.60 718.90,935.60" fill="#111" stroke="none"/>
<line x1="732.50" y1="901.90" x2="732.50" y2="940.20" stroke-width="1"/>
<polygon points="732.50,901.90 734.10,909.10 730.90,909.10" fill="#111" stroke="none"/>
<polygon points="732.50,940.20 730.90,933.00 734.10,933.00" fill="#111" stroke="none"/>
<line x1="742.30" y1="962.50" x2="785.00" y2="962.50" stroke-width="1"/>
<polygon points="742.30,962.50 749.50,960.90 749.50,964.10" fill="#111" stroke="none"/>
<polygon points="785.00,962.50 777.80,964.10 777.80,960.90" fill="#111" stroke="none"/>
<line x1="793.40" y1="962.50" x2="817.00" y2="962.50" stroke-width="1"/>
<polygon points="793.40,962.50 800.60,960.90 800.60,964.10" fill="#111" stroke="none"/>
</g>
<text x="742.80" y="692.00" font-size="14.8" text-anchor="middle" font-weight="normal" fill="#000" stroke="#000" stroke-width="0.6" dy="0.8" textLength="14.0" lengthAdjust="spacingAndGlyphs">24</text>
<text x="820.80" y="692.00" font-size="14.8" text-anchor="middle" font-weight="normal" fill="#000" stroke="#000" stroke-width="0.6" dy="0.8" textLength="7.0" lengthAdjust="spacingAndGlyphs">2</text>
<text x="809.00" y="736.60" font-size="14.8" text-anchor="middle" font-weight="normal" fill="#000" stroke="#000" stroke-width="0.6" dy="0.8" textLength="7.0" lengthAdjust="spacingAndGlyphs">3</text>
<text x="809.00" y="757.60" font-size="14.8" text-anchor="middle" font-weight="normal" fill="#000" stroke="#000" stroke-width="0.6" dy="0.8" textLength="7.0" lengthAdjust="spacingAndGlyphs">5</text>
<text x="808.60" y="778.00" font-size="14.8" text-anchor="middle" font-weight="normal" fill="#000" stroke="#000" stroke-width="0.6" dy="0.8" textLength="7.0" lengthAdjust="spacingAndGlyphs">1</text>
<text x="881.80" y="725.00" font-size="14.8" text-anchor="middle" font-weight="normal" fill="#000" stroke="#000" stroke-width="0.6" dy="0.8" textLength="23.0" lengthAdjust="spacingAndGlyphs" transform="rotate(-90 881.80 725.00)">6.81</text>
<text x="858.60" y="750.70" font-size="14.8" text-anchor="middle" font-weight="normal" fill="#000" stroke="#000" stroke-width="0.6" dy="0.8" textLength="7.0" lengthAdjust="spacingAndGlyphs" transform="rotate(-90 858.60 750.70)">5</text>
<text x="881.80" y="761.70" font-size="14.8" text-anchor="middle" font-weight="normal" fill="#000" stroke="#000" stroke-width="0.6" dy="0.8" textLength="14.0" lengthAdjust="spacingAndGlyphs" transform="rotate(-90 881.80 761.70)">10</text>
<text x="814.90" y="817.00" font-size="14.8" text-anchor="middle" font-weight="normal" fill="#000" stroke="#000" stroke-width="0.6" dy="0.8" textLength="7.0" lengthAdjust="spacingAndGlyphs">1</text>
<text x="763.30" y="960.30" font-size="14.8" text-anchor="middle" font-weight="normal" fill="#000" stroke="#000" stroke-width="0.6" dy="0.8" textLength="14.0" lengthAdjust="spacingAndGlyphs">10</text>
<text x="811.80" y="960.30" font-size="14.8" text-anchor="middle" font-weight="normal" fill="#000" stroke="#000" stroke-width="0.6" dy="0.8" textLength="7.0" lengthAdjust="spacingAndGlyphs">2</text>
<text x="713.80" y="922.40" font-size="14.8" text-anchor="middle" font-weight="normal" fill="#000" stroke="#000" stroke-width="0.6" dy="0.8" textLength="17.5" lengthAdjust="spacingAndGlyphs" transform="rotate(-90 713.80 922.40)">9.6</text>
<text x="730.20" y="921.60" font-size="14.8" text-anchor="middle" font-weight="normal" fill="#000" stroke="#000" stroke-width="0.6" dy="0.8" textLength="7.0" lengthAdjust="spacingAndGlyphs" transform="rotate(-90 730.20 921.60)">9</text>
<text x="0" y="1101.3" font-size="14.8" fill="#000" stroke="#000" stroke-width="0.2" xml:space="preserve" style="white-space:pre;word-spacing:0px">Remark:</text>
<text x="60.0" y="1101.2" font-size="15.2" fill="#000" stroke="none" style="font-family:'Liberation Serif',serif" textLength="14.6" lengthAdjust="spacingAndGlyphs">(1)</text>
<text y="1101.3" font-size="14.7" fill="#000" stroke="#000" stroke-width="0.2"><tspan x="79.4">In</tspan><tspan x="100.1">case</tspan><tspan x="140.3">of</tspan><tspan x="161.2">no</tspan><tspan x="186.1">tolerance</tspan><tspan x="256.4">shown</tspan><tspan x="307.9">in</tspan><tspan x="327.8">outline</tspan><tspan x="380.8">dimension:outline</tspan><tspan x="505.1">dimension≤1mm,tolerance</tspan><tspan x="687.7">should</tspan><tspan x="740.5">be±0.2mm;outline</tspan></text>
<text x="69.5" y="1127.0" font-size="14.7" fill="#000" stroke="#000" stroke-width="0.2" xml:space="preserve" style="white-space:pre;word-spacing:0.82px">dimension &gt;1mm and &lt;5mm,tolerance should be ±0.3mm;outline dimension≥5mm,tolerance should be ±0.5mm.</text>
<text x="52.0" y="1152.4" font-size="15.2" fill="#000" stroke="none" style="font-family:'Liberation Serif',serif" textLength="14.6" lengthAdjust="spacingAndGlyphs">(2)</text>
<text x="75" y="1152.5" font-size="14.7" fill="#000" stroke="#000" stroke-width="0.2" xml:space="preserve" style="white-space:pre;word-spacing:0.48px">The tolerance without indicating for PCB layout is always ±0.1mm.</text>
</svg></body></html>
